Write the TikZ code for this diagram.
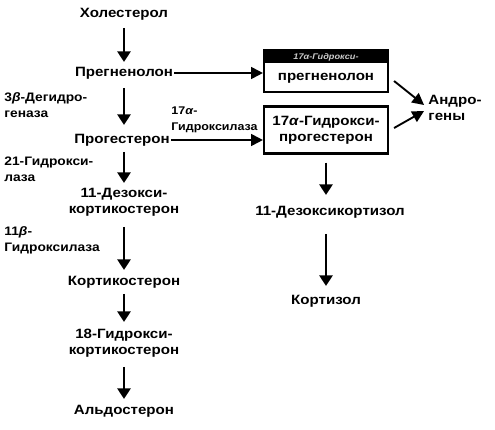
\documentclass[tikz,border=0pt]{standalone}
\usepackage{fontspec}
\setmainfont[FakeStretch=1.12]{Liberation Sans}
\usepackage{tikz}
\usetikzlibrary{arrows.meta, positioning, calc}

\tikzset{
  chem/.style={font=\bfseries\fontsize{11.5}{14}\selectfont, align=center, inner sep=1pt},
  enzyme/.style={font=\bfseries\fontsize{10.5}{13.5}\selectfont, align=left, inner sep=1pt, anchor=west},
  react/.style={line width=2.4pt, -{Triangle[width=11pt,length=9pt]}},
  side/.style={line width=1.6pt, -{Triangle[width=10pt,length=10pt]}},
  box/.style={draw, line width=1.8pt, minimum width=124*0.03cm, inner sep=2pt}
}

\begin{document}
\begin{tikzpicture}[x=0.03cm, y=-0.03cm]
    \useasboundingbox (0,0) rectangle (495,430);

    % Main pathway
    \node[chem] (chol) at (124,14) {Холестерол};
    \node[chem] (preg) at (124,73) {Прегненолон};
    \node[chem] (prog) at (122,140) {Прогестерон};
    \node[chem] (doc) at (124,202) {11-Дезокси-\\кортикостерон};
    \node[chem] (cort) at (124,282) {Кортикостерон};
    \node[chem] (ohc) at (124,343) {18-Гидрокси-\\кортикостерон};
    \node[chem] (ald) at (124,411) {Альдостерон};

    \draw[react] (124,28) -- (124,62);
    \draw[react] (124,88) -- (124,125);
    \draw[react] (124,152) -- (124,183);
    \draw[react] (124,227) -- (124,270);
    \draw[react] (124,294) -- (124,322);
    \draw[react] (124,367) -- (124,399);

    % Enzymes
    \node[enzyme] at (3,105) {3\textit{β}-Дегидро-\\геназа};
    \node[enzyme] at (3,169) {21-Гидрокси-\\лаза};
    \node[enzyme] at (3,240) {11\textit{β}-\\Гидроксилаза};
    \node[enzyme, font=\bfseries\fontsize{9.5}{13.5}\selectfont] at (170,120) {17\textit{α}-\\Гидроксилаза};

    % 17-hydroxy branch
    \node[box, minimum height=42*0.03cm] (ohpreg) at (326,71) {};
    \fill (ohpreg.north west) rectangle ($(ohpreg.north east)+(0,14)$);
    \node[font=\bfseries\itshape\fontsize{7}{8}\selectfont, text=white!80!black] at (326,57) {17\textit{α}-Гидрокси-};
    \node[chem] at (326,78) {прегненолон};
    \node[box, chem, minimum height=47*0.03cm] (ohprog) at (326,130) {17\textit{α}-Гидрокси-\\прогестерон};

    \draw[side] (preg.east) -- (preg.east -| ohpreg.west);
    \draw[side] (prog.east) -- (prog.east -| ohprog.west);

    \node[chem, align=left] (andr) at (455,108) {Андро-\\гены};
    \draw[side] ($(ohpreg.east)+(5,10)$) -- ($(andr.west)+(-3,-3)$);
    \draw[side] ($(ohprog.east)+(5,-2)$) -- ($(andr.west)+(-3,3)$);

    \node[chem] (dcort) at (330,212) {11-Дезоксикортизол};
    \node[chem] (cortisol) at (326,301) {Кортизол};
    \draw[react] (ohprog.south) ++(0,8) -- (326,195);
    \draw[react] (326,234) -- (326,286);
\end{tikzpicture}
\end{document}
